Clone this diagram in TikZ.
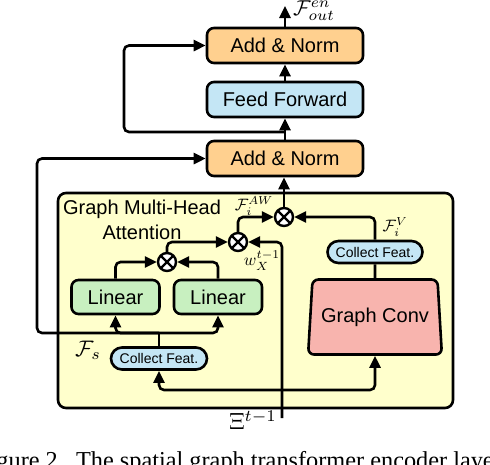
\documentclass[tikz,border=0pt]{standalone}
\usepackage{fontspec}
\setmainfont{Liberation Sans}
\newfontfamily\capfont{Liberation Serif}
\usetikzlibrary{arrows.meta, shapes.geometric}

\definecolor{normorange}{RGB}{255,208,143}
\definecolor{ffblue}{RGB}{196,230,245}
\definecolor{lingreen}{RGB}{200,240,192}
\definecolor{convpink}{RGB}{248,180,174}
\definecolor{panelyellow}{RGB}{255,255,204}

\tikzset{
  wire/.style={line width=2.6pt, rounded corners=5pt},
  blk/.style={draw, line width=2.6pt, rounded corners=7pt, inner sep=0pt, font=\fontsize{20}{24}\selectfont},
  addnorm/.style={blk, fill=normorange, minimum width=156pt, minimum height=35pt},
  feedfwd/.style={blk, fill=ffblue, minimum width=156pt, minimum height=35pt},
  linbox/.style={blk, fill=lingreen, minimum width=88pt, minimum height=34pt},
  collect/.style={blk, fill=ffblue, rounded corners=11pt, minimum height=22pt, font=\fontsize{14}{16}\selectfont},
  mul/.style={circle, draw, line width=2.4pt, fill=white, minimum size=18pt, inner sep=0pt,
    path picture={\draw[line width=2.2pt] (path picture bounding box.south west) -- (path picture bounding box.north east)
      (path picture bounding box.north west) -- (path picture bounding box.south east);}},
  sym/.style={inner sep=0pt},
}

\begin{document}
\begin{tikzpicture}[>={Triangle[length=12pt,width=11pt]}, x=1pt, y=-1pt]

\useasboundingbox (0,0) rectangle (490,464);

% attention panel
\node[draw, line width=2.6pt, rounded corners=8pt, fill=panelyellow, minimum width=395pt, minimum height=215pt] (gmha) at (255.5,300.5) {};
\node[align=center, font=\fontsize{20}{25}\selectfont] (gmhatxt) at (142,219.5) {Graph Multi-Head\\Attention};

% blocks
\node[addnorm] (addtop) at (285,45.5) {Add \& Norm};
\node[feedfwd] (ff) at (285,99.5) {Feed Forward};
\node[addnorm] (addmid) at (285,158.5) {Add \& Norm};

\node[linbox] (linA) at (115.5,297) {Linear};
\node[linbox] (linB) at (218,297) {Linear};

\node[mul] (mulA) at (167,262) {};
\node[mul] (mulB) at (238,242) {};
\node[mul] (mulC) at (284,217) {};

\node[collect, minimum width=95pt] (cfR) at (375,252) {Collect Feat.};
\node[collect, minimum width=96pt] (cfL) at (159,358.5) {Collect Feat.};

\node[trapezium, trapezium angle=81, trapezium stretches=true, draw, line width=2.6pt, rounded corners=6pt,
  fill=convpink, minimum width=134pt, minimum height=75pt, font=\fontsize{20}{24}\selectfont] (conv) at (375,317) {Graph Conv};

\coordinate (xin) at (282,418);
\coordinate (split) at (282,390);
\coordinate (fs) at (159,333);
\coordinate (skipT) at (285,132);
\coordinate (out) at (285,6);

% wires
\draw[wire,->] (xin) |- (mulB.east);
\draw[wire,->] (split) -| (cfL.south);
\draw[wire,->] (split) -| (conv.south);

\draw[wire] (cfL.north) -- (fs);
\draw[wire,->] (fs) -| (linA.south);
\draw[wire,->] (fs) -| (linB.south);
\draw[wire,->] (fs) -- (37,333) |- (addmid.west);

\draw[wire,->] (linA.north) |- (mulA.west);
\draw[wire,->] (linB.north) |- (mulA.east);
\draw[wire,->] (mulA.north) |- (mulB.west);
\draw[wire,->] (mulB.north) |- (mulC.west);
\draw[wire,->] (cfR.north) |- (mulC.east);
\draw[wire] (cfR.south) -- (conv.north);
\draw[wire,->] (mulC.north) -- (mulC.north |- addmid.south);

\draw[wire,->] (addmid.north) -- (ff.south);
\draw[wire,->] (skipT) -- (124,132) |- (addtop.west);
\draw[wire,->] (ff.north) -- (addtop.south);
\draw[wire,->] (addtop.north) -- (out);

% labels
\node[sym, scale=2.15] (lblout) at (314,10.5) {$\mathcal{F}^{en}_{out}$};
\node[sym, scale=1.65] (lblaw) at (254,206) {$\mathcal{F}^{AW}_{i}$};
\node[sym, scale=1.7] (lblw) at (262,261) {$w^{t-1}_{X}$};
\node[sym, scale=1.65] (lblv) at (395,227) {$\mathcal{F}^{V}_{i}$};
\node[sym, scale=2.25] (lblfs) at (88,350) {$\mathcal{F}_{s}$};
\node[sym, scale=2.35] (lblxi) at (253,420) {$\Xi^{t-1}$};

% caption, cut by the page
\begin{scope}
\clip (0,0) rectangle (490,464);
\node[anchor=base west, inner sep=0pt, font=\capfont\fontsize{24.3}{28}\selectfont] (cap) at (-24,468) {Figure 2.\ \ The spatial graph transformer encoder layer.};
\end{scope}

\end{tikzpicture}
\end{document}
